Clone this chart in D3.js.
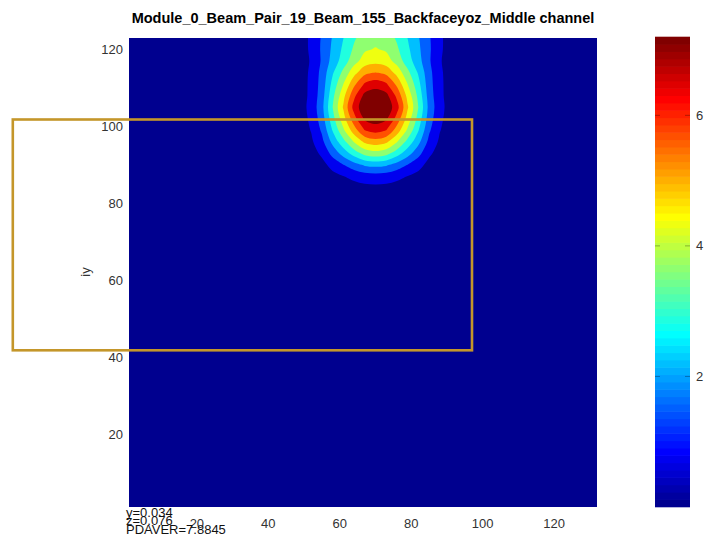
<!DOCTYPE html>
<html>
<head>
  <meta charset="utf-8">
  <title>Backfaceyoz contour</title>
  <script src="https://cdn.jsdelivr.net/npm/d3@7"></script>
  <style>
    body { margin: 0; background: #fff; }
    text { font-family: "Liberation Sans", Arial, sans-serif; }
  </style>
</head>
<body>
<script>

  // chart data
  const title = "Module_0_Beam_Pair_19_Beam_155_Backfaceyoz_Middle channel";
  const xDomain = [1, 132];
  const yDomain = [1, 123];
  const zDomain = [0, 7.2];
  const xTicks = [20, 40, 60, 80, 100, 120];
  const yTicks = [20, 40, 60, 80, 100, 120];
  const cbTicks = [2, 4, 6];
  const levels = [0.65, 1.3, 1.95, 2.6, 3.25, 3.9, 4.55, 5.2, 5.85, 6.5];
  const notes = ["y=0.034", "z=0.076", "PDAVER=7.8845"];

  const gridX = [43, 46, 49, 52, 55, 58, 61, 64, 67, 70, 73, 76, 79, 82, 85, 88, 91, 94, 97];
  const gridY = [126, 123, 120, 117, 114, 111, 108, 105, 102, 99, 96, 93, 90, 87, 84, 81, 78];
  const gridZ = [
    [0.09, 0.20, 0.38, 0.71, 1.29, 1.85, 2.38, 2.91, 3.29, 3.40, 3.29, 2.91, 2.38, 1.85, 1.29, 0.71, 0.38, 0.20, 0.09],
    [0.09, 0.20, 0.41, 0.75, 1.38, 2.00, 2.59, 3.16, 3.58, 3.70, 3.58, 3.16, 2.59, 2.00, 1.38, 0.75, 0.41, 0.20, 0.09],
    [0.08, 0.20, 0.40, 0.75, 1.41, 2.08, 2.73, 3.36, 3.82, 3.95, 3.82, 3.36, 2.73, 2.08, 1.41, 0.75, 0.40, 0.20, 0.08],
    [0.07, 0.17, 0.37, 0.71, 1.39, 2.20, 2.91, 3.65, 4.20, 4.35, 4.20, 3.65, 2.91, 2.20, 1.39, 0.71, 0.37, 0.17, 0.07],
    [0.06, 0.16, 0.39, 0.76, 1.51, 2.52, 3.42, 4.32, 5.00, 5.20, 5.00, 4.32, 3.42, 2.52, 1.51, 0.76, 0.39, 0.16, 0.06],
    [0.06, 0.15, 0.38, 0.79, 1.57, 2.81, 3.90, 5.05, 5.95, 6.20, 5.95, 5.05, 3.90, 2.81, 1.57, 0.79, 0.38, 0.15, 0.06],
    [0.05, 0.14, 0.38, 0.80, 1.65, 3.07, 4.35, 5.70, 6.70, 6.90, 6.70, 5.70, 4.35, 3.07, 1.65, 0.80, 0.38, 0.14, 0.05],
    [0.06, 0.15, 0.40, 0.85, 1.75, 3.25, 4.62, 6.10, 7.00, 7.20, 7.00, 6.10, 4.62, 3.25, 1.75, 0.85, 0.40, 0.15, 0.06],
    [0.05, 0.14, 0.37, 0.78, 1.62, 3.00, 4.28, 5.60, 6.62, 6.85, 6.62, 5.60, 4.28, 3.00, 1.62, 0.78, 0.37, 0.14, 0.05],
    [0.05, 0.12, 0.32, 0.68, 1.40, 2.64, 3.78, 4.90, 5.85, 6.10, 5.85, 4.90, 3.78, 2.64, 1.40, 0.68, 0.32, 0.12, 0.05],
    [0.03, 0.09, 0.25, 0.54, 1.12, 2.13, 3.04, 3.94, 4.68, 4.90, 4.68, 3.94, 3.04, 2.13, 1.12, 0.54, 0.25, 0.09, 0.03],
    [0.02, 0.06, 0.16, 0.37, 0.78, 1.52, 2.23, 2.91, 3.48, 3.65, 3.48, 2.91, 2.23, 1.52, 0.78, 0.37, 0.16, 0.06, 0.02],
    [0.01, 0.03, 0.09, 0.21, 0.44, 0.88, 1.29, 1.70, 2.05, 2.15, 2.05, 1.70, 1.29, 0.88, 0.44, 0.21, 0.09, 0.03, 0.01],
    [0.01, 0.02, 0.06, 0.12, 0.24, 0.45, 0.63, 0.81, 0.96, 1.00, 0.96, 0.81, 0.63, 0.45, 0.24, 0.12, 0.06, 0.02, 0.01],
    [0.00, 0.01, 0.03, 0.06, 0.12, 0.23, 0.32, 0.41, 0.48, 0.50, 0.48, 0.41, 0.32, 0.23, 0.12, 0.06, 0.03, 0.01, 0.00],
    [0.00, 0.00, 0.01, 0.02, 0.05, 0.09, 0.13, 0.16, 0.19, 0.20, 0.19, 0.16, 0.13, 0.09, 0.05, 0.02, 0.01, 0.00, 0.00],
    [0.00, 0.00, 0.00, 0.00, 0.01, 0.02, 0.03, 0.04, 0.05, 0.05, 0.05, 0.04, 0.03, 0.02, 0.01, 0.00, 0.00, 0.00, 0.00]
  ];

  // layout
  const width = 712, height = 540;
  const plot = { left: 129, right: 597, top: 38, bottom: 507 };
  const cbar = { left: 655, right: 690, top: 37, bottom: 507 };

  // matlab style jet(64)
  function jetMap(n) {
    const m = Math.ceil(n / 4);
    const u = [];
    for (let i = 1; i <= m; i++) u.push(i / m);
    for (let i = 1; i < m; i++) u.push(1);
    for (let i = m; i >= 1; i--) u.push(i / m);
    const g0 = Math.ceil(m / 2) - (n % 4 === 1 ? 1 : 0);
    const cols = [];
    for (let i = 1; i <= n; i++) {
      const gi = i - g0, ri = gi - m, bi = gi + m;
      const pick = k => (k >= 1 && k <= u.length ? u[k - 1] : 0);
      cols.push(d3.rgb(pick(ri) * 255, pick(gi) * 255, pick(bi) * 255).formatHex());
    }
    return cols;
  }
  const jet = jetMap(64);

  const svg = d3.select("body").append("svg")
    .attr("width", width)
    .attr("height", height);

  const x = d3.scaleLinear().domain(xDomain).range([plot.left, plot.right]);
  const y = d3.scaleLinear().domain(yDomain).range([plot.bottom, plot.top]);
  const zc = d3.scaleLinear().domain(zDomain).range([cbar.bottom, cbar.top]);

  // title
  svg.append("text")
    .attr("x", (plot.left + plot.right) / 2)
    .attr("y", 23)
    .attr("text-anchor", "middle")
    .style("font-size", "14.5px")
    .style("font-weight", "bold")
    .text(title);

  svg.append("clipPath").attr("id", "plotclip")
    .append("rect")
    .attr("x", plot.left).attr("y", plot.top)
    .attr("width", plot.right - plot.left).attr("height", plot.bottom - plot.top);

  const field = svg.append("g").attr("clip-path", "url(#plotclip)");

  // background level
  field.append("rect")
    .attr("x", plot.left).attr("y", plot.top)
    .attr("width", plot.right - plot.left).attr("height", plot.bottom - plot.top)
    .attr("fill", jet[0]);

  // filled contours
  const nx = gridX.length, ny = gridY.length;
  const bands = d3.contours().size([nx, ny]).thresholds(levels)(gridZ.flat());
  const gx = d3.scaleLinear().domain([0.5, nx - 0.5]).range([gridX[0], gridX[nx - 1]]);
  const gy = d3.scaleLinear().domain([0.5, ny - 0.5]).range([gridY[0], gridY[ny - 1]]);
  const ring = d3.line()
    .x(p => x(gx(p[0])))
    .y(p => y(gy(p[1])))
    .curve(d3.curveCatmullRomClosed.alpha(0.5));

  field.selectAll("path.band")
    .data(bands)
    .enter()
    .append("path")
    .attr("class", "band")
    .attr("fill-rule", "evenodd")
    .attr("fill", (d, i) => jet[Math.round((i + 1) * 63 / levels.length)])
    .attr("d", d => d.coordinates.map(poly => poly.map(r => ring(r.slice(0, -1))).join("")).join(""));

  // x tick labels
  svg.selectAll("text.xt")
    .data(xTicks)
    .enter()
    .append("text")
    .attr("class", "xt")
    .attr("x", d => x(d))
    .attr("y", 528)
    .attr("text-anchor", "middle")
    .style("font-size", "13px")
    .style("fill", "#333")
    .text(d => d);

  // y tick labels
  svg.selectAll("text.yt")
    .data(yTicks)
    .enter()
    .append("text")
    .attr("class", "yt")
    .attr("x", 123)
    .attr("y", d => y(d) + 4.6)
    .attr("text-anchor", "end")
    .style("font-size", "13px")
    .style("fill", "#333")
    .text(d => d);

  svg.append("text")
    .attr("transform", "translate(90,272) rotate(-90)")
    .attr("text-anchor", "middle")
    .style("font-size", "13px")
    .style("fill", "#333")
    .text("iy");

  // notes at bottom left
  svg.selectAll("text.note")
    .data(notes)
    .enter()
    .append("text")
    .attr("class", "note")
    .attr("x", 126)
    .attr("y", (d, i) => [517, 525, 534][i])
    .style("font-size", "13px")
    .style("fill", "#111")
    .text(d => d);

  // colorbar
  const step = (zDomain[1] - zDomain[0]) / jet.length;
  svg.selectAll("rect.cb")
    .data(jet)
    .enter()
    .append("rect")
    .attr("class", "cb")
    .attr("x", cbar.left)
    .attr("width", cbar.right - cbar.left)
    .attr("y", (d, i) => zc(zDomain[0] + (i + 1) * step) - 0.3)
    .attr("height", (d, i) => zc(zDomain[0] + i * step) - zc(zDomain[0] + (i + 1) * step) + 0.6)
    .attr("fill", d => d);

  svg.selectAll("line.cbt")
    .data(cbTicks.flatMap(t => [[t, cbar.left, cbar.left + 5], [t, cbar.right - 5, cbar.right]]))
    .enter()
    .append("line")
    .attr("x1", d => d[1]).attr("x2", d => d[2])
    .attr("y1", d => zc(d[0])).attr("y2", d => zc(d[0]))
    .style("stroke", "rgba(0,0,0,0.3)")
    .style("stroke-width", 1);

  svg.selectAll("text.cbl")
    .data(cbTicks)
    .enter()
    .append("text")
    .attr("class", "cbl")
    .attr("x", 696)
    .attr("y", d => zc(d) + 4.6)
    .style("font-size", "13px")
    .style("fill", "#333")
    .text(d => d);

  // highlight box drawn over the figure
  svg.append("rect")
    .attr("x", 12.8).attr("y", 119.5)
    .attr("width", 472 - 12.8).attr("height", 350.3 - 119.5)
    .attr("fill", "none")
    .style("stroke", "#c4962a")
    .style("stroke-width", 2.6);

</script>
</body>
</html>
